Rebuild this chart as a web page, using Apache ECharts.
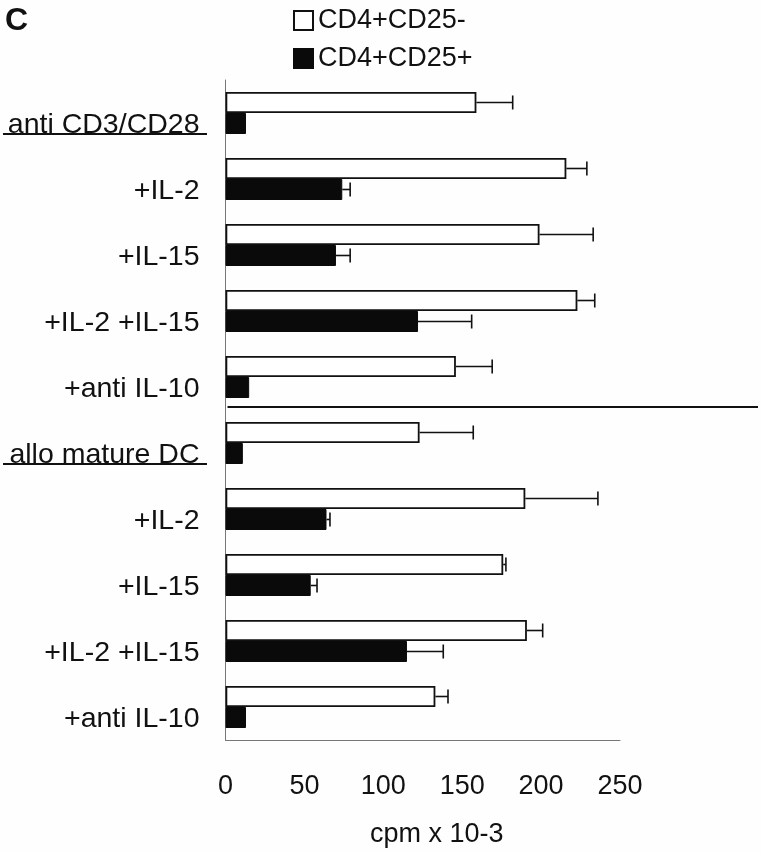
<!DOCTYPE html>
<html>
<head>
<meta charset="utf-8">
<script src="https://cdn.jsdelivr.net/npm/echarts@6/dist/echarts.min.js"></script>
<style>
  html, body { margin: 0; padding: 0; background: #fefefe; }
  #chart { width: 762px; height: 853px; }
</style>
</head>
<body>
<div id="chart"></div>
<script>
// conditions, top to bottom
const categories = [
	"anti CD3/CD28", "+IL-2", "+IL-15", "+IL-2 +IL-15", "+anti IL-10",
	"allo mature DC", "+IL-2", "+IL-15", "+IL-2 +IL-15", "+anti IL-10",
];
const seriesNames = ["CD4+CD25-", "CD4+CD25+"];
// cpm x 10-3
const cd25neg = [159, 216, 199, 223, 146, 123, 190, 176, 191, 133];
const cd25negErr = [23, 13, 34, 11, 23, 34, 46, 1.7, 10, 8];
const cd25pos = [13, 74, 70, 122, 15, 11, 64, 54, 115, 13];
const cd25posErr = [0, 5, 9, 34, 0, 0, 2.2, 4, 23, 0];
const xTicks = [0, 50, 100, 150, 200, 250];
const groupHeads = [0, 5]; // rows with underlined labels

const FONT = "'Liberation Sans', Arial, sans-serif";
const BAR_W = 21;

const dom = document.getElementById("chart");
const myChart = echarts.init(dom, null, { renderer: "canvas" });

// offset of each series inside the category band (white on top)
const SERIES_OFFSET = [-BAR_W / 2, BAR_W / 2];

const errorSeries = (vals, errs, idx) => ({
	type: "custom",
	silent: true,
	z: 1,
	data: vals.map((v, i) => [v, i, errs[i]]),
	encode: { x: 0, y: 1 },
	renderItem: (params, api) => {
		const v = api.value(0);
		const cat = api.value(1);
		const e = api.value(2);
		if (!e) return null;
		const p0 = api.coord([v, cat]);
		const p1 = api.coord([v + e, cat]);
		const y = p0[1] + SERIES_OFFSET[idx];
		const style = { stroke: "#111", lineWidth: 1.6 };
		return {
			type: "group",
			children: [
				{ type: "line", shape: { x1: p0[0], y1: y, x2: p1[0], y2: y }, style },
				{ type: "line", shape: { x1: p1[0], y1: y - 7, x2: p1[0], y2: y + 7 }, style },
			],
		};
	},
});

const option = {
	animation: false,
	backgroundColor: "#fefefe",
	textStyle: { fontFamily: FONT, color: "#111" },
	title: {
		text: "C",
		left: 0,
		top: 0,
		textStyle: { fontFamily: FONT, fontSize: 32, fontWeight: "bold", color: "#111" },
	},
	legend: {
		orient: "vertical",
		left: 288,
		top: 2,
		itemWidth: 19,
		itemHeight: 19,
		itemGap: 11,
		icon: "rect",
		data: seriesNames,
		textStyle: { fontFamily: FONT, fontSize: 27, color: "#111" },
	},
	grid: { left: 225.5, right: 142, top: 80, bottom: 111 },
	xAxis: {
		type: "value",
		min: xTicks[0],
		max: xTicks[xTicks.length - 1],
		interval: 50,
		splitLine: { show: false },
		axisTick: { show: false },
		axisLine: { show: true, lineStyle: { color: "#777", width: 1 } },
		axisLabel: { fontFamily: FONT, fontSize: 27, color: "#111", margin: 33 },
		name: "cpm x 10-3",
		nameLocation: "middle",
		nameGap: 81,
		nameTextStyle: { fontFamily: FONT, fontSize: 27, color: "#111", padding: [0, 0, 0, 28] },
	},
	yAxis: {
		type: "category",
		inverse: true,
		data: categories,
		axisTick: { show: false },
		axisLine: { show: true, lineStyle: { color: "#777", width: 1 } },
		axisLabel: {
			fontFamily: FONT,
			fontSize: 28.5,
			color: "#111",
			margin: 26,
			verticalAlign: "top",
			lineHeight: 24,
		},
	},
	series: [
		{
			name: seriesNames[0],
			type: "bar",
			data: cd25neg,
			barWidth: BAR_W,
			barGap: "0%",
			itemStyle: { color: "#ffffff", borderColor: "#111", borderWidth: 1.8 },
		},
		{
			name: seriesNames[1],
			type: "bar",
			data: cd25pos,
			barWidth: BAR_W,
			barGap: "0%",
			itemStyle: { color: "#0a0a0a", borderColor: "#0a0a0a", borderWidth: 1 },
		},
		errorSeries(cd25neg, cd25negErr, 0),
		errorSeries(cd25pos, cd25posErr, 1),
	],
};
myChart.setOption(option);

// separator between the two experiments and label underlines
const py = (i) => myChart.convertToPixel({ yAxisIndex: 0 }, i);
const x0 = myChart.convertToPixel({ xAxisIndex: 0 }, 0);
const lines = [];
lines.push({
	type: "line",
	shape: { x1: x0 + 2, y1: (py(4) + py(5)) / 2 - 3, x2: 758, y2: (py(4) + py(5)) / 2 - 3 },
	style: { stroke: "#111", lineWidth: 2 },
});
groupHeads.forEach((i) => {
	const y = py(i) + 21;
	lines.push({
		type: "line",
		shape: { x1: 3, y1: y, x2: 207, y2: y },
		style: { stroke: "#111", lineWidth: 2 },
	});
});
myChart.setOption({ graphic: lines });
</script>
</body>
</html>
